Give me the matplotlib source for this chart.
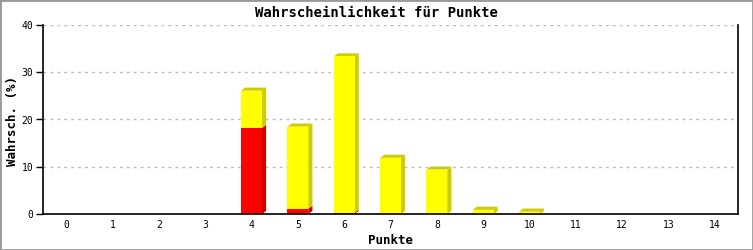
import matplotlib
matplotlib.use("Agg")
import matplotlib.pyplot as plt
from matplotlib.patches import Polygon, Rectangle

punkte = list(range(15))
rot = [0, 0, 0, 0, 18.2, 1.1, 0.25, 0, 0, 0, 0, 0, 0, 0, 0]
gelb = [0, 0, 0, 0, 7.9, 17.4, 33.1, 11.9, 9.4, 0.9, 0.5, 0, 0, 0, 0]

fig = plt.figure(figsize=(7.53, 2.5), dpi=100)
ax = fig.add_axes([43 / 753, 36 / 250, 695 / 753, 189 / 250])

breite = 0.45
dx = 0.09   # Tiefe nach rechts (Daten)
dy = 0.65   # Tiefe nach oben (Daten)


def balken(x, unten, hoehe, farbe, dunkel, oben_zeichnen):
    if hoehe <= 0:
        return
    l = x - breite / 2
    r = x + breite / 2
    o = unten + hoehe
    # Seitenflaeche
    ax.add_patch(Polygon([(r, unten), (r + dx, unten + dy), (r + dx, o + dy), (r, o)],
                         closed=True, facecolor=dunkel, edgecolor="none", zorder=3))
    if oben_zeichnen:
        ax.add_patch(Polygon([(l, o), (l + dx, o + dy), (r + dx, o + dy), (r, o)],
                             closed=True, facecolor=dunkel, edgecolor="none", zorder=3))
    ax.add_patch(Rectangle((l, unten), breite, hoehe, facecolor=farbe,
                           edgecolor="none", zorder=4))


for p, r_, g_ in zip(punkte, rot, gelb):
    balken(p, 0, r_, "#ff0000", "#cc0000", g_ <= 0)
    balken(p, r_, g_, "#ffff00", "#cccc00", True)

ax.set_xlim(-0.5, 14.5)
ax.set_ylim(0, 40)
ax.set_xticks(punkte)
ax.set_yticks([0, 10, 20, 30, 40])
ax.tick_params(axis="x", length=0, labelsize=7, pad=4)
ax.tick_params(axis="y", length=5, width=1, labelsize=7, pad=2)
for t in ax.get_xticklabels() + ax.get_yticklabels():
    t.set_family("DejaVu Sans Mono")

ax.grid(axis="y", color="#bbbbbb", linestyle=(0, (2, 3)), linewidth=1, zorder=0)
ax.spines["top"].set_visible(False)
for s in ["left", "bottom", "right"]:
    ax.spines[s].set_linewidth(1.2)
    ax.spines[s].set_zorder(5)

# Achsentitel
fig.text((43 + 695 / 2) / 753, 1 - 240 / 250, "Punkte", ha="center", va="center",
         family="DejaVu Sans Mono", fontweight="bold", fontsize=9)
fig.text(13 / 753, 1 - 121 / 250, "Wahrsch. (%)", ha="center", va="center", rotation=90,
         family="DejaVu Sans Mono", fontweight="bold", fontsize=9)
fig.text(0.5, 1 - 13 / 250, "Wahrscheinlichkeit für Punkte", ha="center", va="center",
         family="DejaVu Sans Mono", fontweight="bold", fontsize=10)

fig.patches.append(Rectangle((0, 0), 1, 1, transform=fig.transFigure, fill=False,
                             edgecolor="#999999", linewidth=2))

fig.savefig("out.png", dpi=100)
